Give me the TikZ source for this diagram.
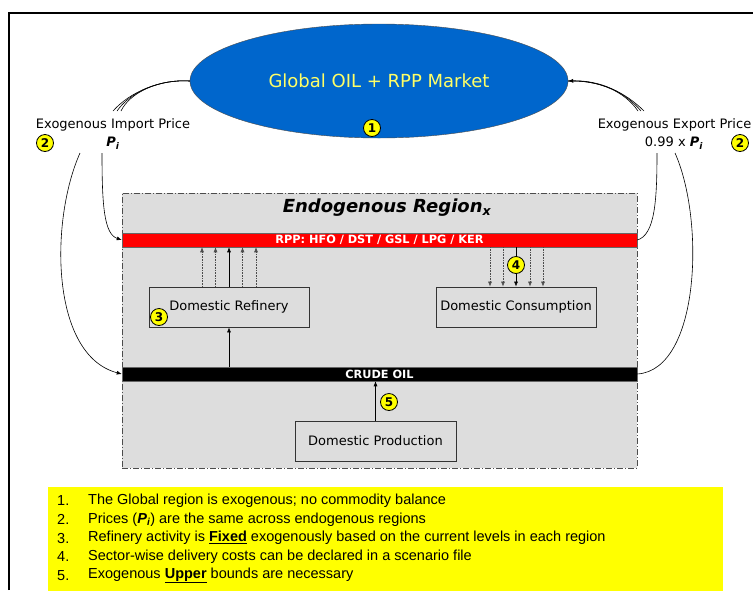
\documentclass[tikz,border=0pt]{standalone}
\usepackage{fontspec}
\setmainfont{DejaVu Sans}
\newfontfamily\listfont{Liberation Sans}
\usetikzlibrary{arrows.meta,shapes.geometric,calc}
\definecolor{mktblue}{RGB}{0,102,204}
\definecolor{mkttext}{RGB}{255,255,102}
\definecolor{regiongray}{RGB}{221,221,221}
\definecolor{badgeyellow}{RGB}{255,255,0}
\begin{document}
\begin{tikzpicture}[x=1pt,y=-1pt,
  badge/.style={circle,draw=black,line width=0.8pt,fill=badgeyellow,inner sep=0pt,minimum size=17pt,font=\fontsize{12}{12}\selectfont\bfseries},
  boxnode/.style={draw=black!80,line width=0.8pt,inner sep=0pt,minimum width=160pt,minimum height=40pt,font=\fontsize{13}{15}\selectfont},
  barnode/.style={draw=black!60,line width=0.5pt,inner sep=0pt,minimum width=515pt,minimum height=14pt,text=white,font=\fontsize{11.3}{12}\selectfont\bfseries},
  lbl/.style={inner sep=0pt,font=\fontsize{13}{15}\selectfont},
  tip/.style={-{Latex[length=5pt,width=4pt]}},
  thin/.style={line width=0.6pt},
  listtext/.style={anchor=west,inner sep=0pt,font=\listfont\fontsize{14.5}{16}\selectfont}
]
\useasboundingbox (0,0) rectangle (753,590);
% outer frame
\draw[line width=2pt] (9,590) -- (9,13) -- (753,13);
% global market
\node[ellipse,draw=black!70,fill=mktblue,minimum width=378pt,minimum height=114pt,inner sep=0pt,text=mkttext,font=\fontsize{18}{20}\selectfont] (mkt) at (379,81) {Global OIL + RPP Market};
\node[badge] (b1) at (372,128) {1};
% region
\node[draw=black!70,line width=0.6pt,dash pattern=on 6pt off 2pt on 1pt off 2pt,fill=regiongray,minimum width=515pt,minimum height=275pt,inner sep=0pt] (reg) at (379.5,330.5) {};
\node[inner sep=0pt,font=\fontsize{18}{20}\selectfont\bfseries\itshape] (title) at (387,208) {Endogenous Region\textsubscript{x}};
\node[barnode,fill=red] (rpp) at (379.5,240) {RPP: HFO / DST / GSL / LPG / KER};
\node[barnode,fill=black] (crude) at (379.5,374) {CRUDE OIL};
\node[boxnode] (ref) at (229,307) {Domestic Refinery};
\node[boxnode] (cons) at (516,307) {Domestic Consumption};
\node[boxnode,minimum width=161pt] (prod) at (375.5,441) {Domestic Production};
% refinery outputs
\foreach \dx in {-27,-13.5,13.5,27}
  \draw[tip,densely dotted,thin,black!70] ($(ref.north)+(\dx,0)$) -- ($(ref.north |- rpp.south)+(\dx,0)$);
\draw[tip,thin] (ref.north) -- (ref.north |- rpp.south);
% consumption inputs
\foreach \dx in {-26,-13,14,27}
  \draw[tip,densely dotted,thin,black!70] ($(cons.north |- rpp.south)+(\dx,0)$) -- ($(cons.north)+(\dx,0)$);
\draw[tip,thin] (cons.north |- rpp.south) -- (cons.north);
\node[badge] (b4) at (516,265) {4};
% crude to refinery
\draw[tip,thin] (ref.south |- crude.north) -- (ref.south);
\draw[tip,thin] (prod.north) -- (prod.north |- crude.south);
\node[badge] (b3) at (159,317) {3};
\node[badge] (b5) at (389,402) {5};
% price labels
\node[lbl] (imp) at (113,125) {Exogenous Import Price};
\node[lbl,font=\fontsize{13}{15}\selectfont\bfseries\itshape] (pimp) at (113,143) {P\textsubscript{i}};
\node[badge] (b2l) at (45,143) {2};
\node[lbl] (exp) at (674.5,125) {Exogenous Export Price};
\node[lbl] (pexp) at (674,143) {0.99 x \textbf{\textit{P\textsubscript{i}}}};
\node[badge] (b2r) at (740,143) {2};
% connectors market <-> labels
\coordinate (fl1) at (113,111);
\coordinate (fl2) at (117,111);
\coordinate (fl3) at (121,111);
\foreach \c in {fl1,fl2,fl3}
  \draw[thin] (mkt.west) .. controls (160,79) and (130,92) .. (\c);
\coordinate (fr1) at (638,111);
\coordinate (fr2) at (641,111);
\coordinate (fr3) at (644,111);
\foreach \c in {fr1,fr3}
  \draw[thin] (\c) .. controls (625,92) and (600,80) .. (mkt.east);
\draw[tip,thin] (fr2) .. controls (625,92) and (600,80) .. (mkt.east);
% connectors labels -> region
\coordinate (il1) at (80,153);
\coordinate (il2) at (102,153);
\draw[tip,thin] (il1) .. controls (50,220) and (50,355) .. (crude.west);
\draw[tip,thin] (il2) .. controls (102,205) and (104,234) .. (rpp.west);
\coordinate (el1) at (657,153);
\coordinate (el2) at (675,153);
\draw[thin] (rpp.east) .. controls (655,235) and (657,200) .. (el1);
\draw[thin] (crude.east) .. controls (700,370) and (705,220) .. (el2);
% notes
\node[fill=badgeyellow,anchor=north west,minimum width=675pt,minimum height=110pt,inner sep=0pt] (notes) at (48,487) {};
\foreach \k/\t in {0/{The Global region is exogenous; no commodity balance},
                   1/{Prices (\textbf{\textit{P\textsubscript{i}}}) are the same across endogenous regions},
                   2/{Refinery activity is \underline{\textbf{Fixed}} exogenously based on the current levels in each region},
                   3/{Sector-wise delivery costs can be declared in a scenario file},
                   4/{Exogenous \underline{\textbf{Upper}} bounds are necessary}} {
  \pgfmathtruncatemacro{\n}{\k+1}
  \node[listtext] (num\k) at (57,501+18.6*\k) {\n.};
  \node[listtext] (item\k) at (88,501+18.6*\k) {\t};
}
\end{tikzpicture}
\end{document}
